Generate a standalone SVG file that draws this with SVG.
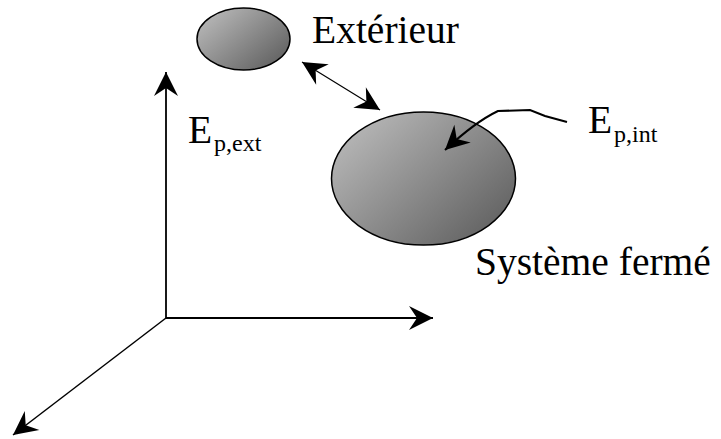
<svg xmlns="http://www.w3.org/2000/svg" width="721" height="439" viewBox="0 0 721 439">
<style>
.lbl{font-family:"Liberation Serif","Times New Roman",serif;fill:#000}
.big{font-size:39.5px}
.sub{font-size:24px}
.ln{fill:none;stroke:#000;stroke-linecap:butt}
.ell{stroke:#000;stroke-width:1.5}
</style>
<defs>
<linearGradient id="g1" x1="0" y1="0.1" x2="1" y2="0.9">
<stop offset="0" stop-color="#bdbdbd"/>
<stop offset="1" stop-color="#5c5c5c"/>
</linearGradient>
<marker id="ah" markerUnits="userSpaceOnUse" markerWidth="28" markerHeight="28" viewBox="-26 -14 28 28" refX="0" refY="0" orient="auto-start-reverse">
<path d="M0,0 L-24,-12 L-16,0 L-24,12 Z" fill="#000"/>
</marker>
</defs>
<rect width="721" height="439" fill="#fff"/>
<g id="connectors">
<line class="ln" x1="166" y1="318" x2="166" y2="72" stroke-width="1.8" marker-end="url(#ah)"/>
<line class="ln" x1="166" y1="318" x2="433" y2="318" stroke-width="1.8" marker-end="url(#ah)"/>
<line class="ln" x1="166" y1="318" x2="13" y2="435" stroke-width="1.5" marker-end="url(#ah)"/>
<line class="ln" x1="302" y1="62" x2="380" y2="110" stroke-width="1.2" marker-start="url(#ah)" marker-end="url(#ah)"/>
</g>
<g id="exterieur">
<ellipse class="ell" cx="243.5" cy="39" rx="46.5" ry="31" fill="url(#g1)"/>
<text class="lbl big" x="312" y="43">Extérieur</text>
</g>
<g id="systeme">
<ellipse class="ell" cx="423.5" cy="178.5" rx="92" ry="66.5" fill="url(#g1)"/>
<text class="lbl big" x="475" y="275">Système fermé</text>
</g>
<g id="ep-int-arrow">
<path class="ln" d="M567,122 L545,116 L530,110 L498,111 Q475,122 445,150" stroke-width="2" marker-end="url(#ah)"/>
</g>
<g id="ep-ext">
<text class="lbl big" x="188" y="143">E</text>
<text class="lbl sub" x="214" y="151">p,ext</text>
</g>
<g id="ep-int">
<text class="lbl big" x="588" y="133">E</text>
<text class="lbl sub" x="614" y="142">p,int</text>
</g>
</svg>
